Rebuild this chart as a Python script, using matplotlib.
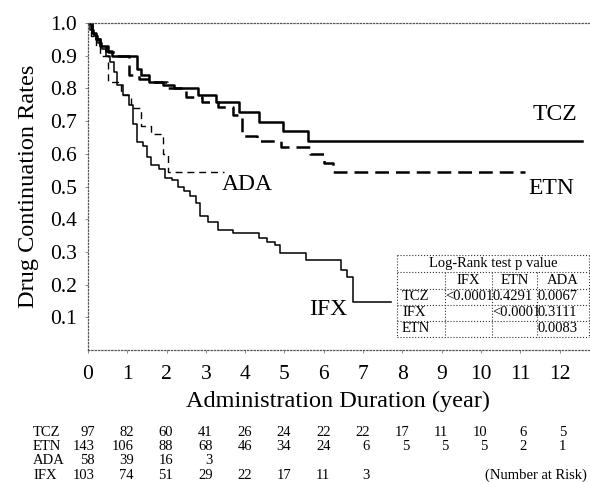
import numpy as np
import matplotlib
matplotlib.use('Agg')
import matplotlib.pyplot as plt
from matplotlib.lines import Line2D
from matplotlib.transforms import blended_transform_factory

plt.rcParams['font.family'] = ['Liberation Serif', 'DejaVu Serif']

# Kaplan-Meier style step curves (time in years, continuation rate)
tcz_t = [0, 0.1, 0.2, 0.3, 0.45, 0.6, 1.25, 1.35, 1.55, 1.9, 2.2, 2.8, 3.25, 3.85, 4.35, 4.95, 5.6, 12.57]
tcz_s = [1.0, 0.97, 0.95, 0.93, 0.915, 0.9, 0.86, 0.84, 0.82, 0.81, 0.80, 0.78, 0.757, 0.727, 0.697, 0.669, 0.638, 0.638]

etn_t = [0, 0.1, 0.2, 0.3, 0.5, 0.7, 1.05, 1.3, 1.6, 2.0, 2.5, 2.9, 3.3, 3.7, 3.93, 4.3, 4.9, 5.65, 6.0, 6.23, 11.12]
etn_s = [1.0, 0.97, 0.95, 0.93, 0.91, 0.9, 0.84, 0.83, 0.82, 0.80, 0.775, 0.757, 0.742, 0.72, 0.653, 0.638, 0.62, 0.598, 0.573, 0.543, 0.543]

ada_t = [0, 0.08, 0.2, 0.3, 0.5, 0.85, 1.1, 1.35, 1.6, 1.9, 2.03, 3.45]
ada_s = [1.0, 0.96, 0.93, 0.9, 0.82, 0.78, 0.74, 0.685, 0.66, 0.6, 0.543, 0.543]

ifx_t = [0, 0.05, 0.15, 0.25, 0.35, 0.45, 0.55, 0.65, 0.75, 0.9, 1.05, 1.15, 1.25, 1.4, 1.5, 1.6, 1.8,
         1.95, 2.15, 2.3, 2.45, 2.6, 2.75, 2.85, 3.05, 3.3, 3.7, 4.35, 4.55, 4.75, 4.88, 5.55, 6.45,
         6.6, 6.75, 7.7]
ifx_s = [1.0, 0.98, 0.96, 0.94, 0.92, 0.9, 0.88, 0.85, 0.81, 0.78, 0.75, 0.69, 0.635, 0.623, 0.59, 0.565, 0.552,
         0.527, 0.52, 0.5, 0.485, 0.47, 0.45, 0.41, 0.39, 0.368, 0.357, 0.343, 0.33, 0.32, 0.297, 0.276, 0.245,
         0.224, 0.147, 0.147]

# number at risk
risk_years = list(range(13))
risk_labels = ['TCZ', 'ETN', 'ADA', 'IFX']
risk_tcz = [97, 82, 60, 41, 26, 24, 22, 22, 17, 11, 10, 6, 5]
risk_etn = [143, 106, 88, 68, 46, 34, 24, 6, 5, 5, 5, 2, 1]
risk_ada = [58, 39, 16, 3]
risk_ifx = [103, 74, 51, 29, 22, 17, 11, 3]

# log-rank table
lr_cols = ['', 'IFX', 'ETN', 'ADA']
lr_rows = ['TCZ', 'IFX', 'ETN']
lr_vals = [['<0.0001', '0.4291', '0.0067'],
           ['', '<0.0001', '0.3111'],
           ['', '', '0.0083']]

W, H = 590, 482
fig = plt.figure(figsize=(W / 100, H / 100), dpi=100)
ax = fig.add_axes([88 / W, 1 - 350 / H, 501 / W, 327 / H])

ax.step(tcz_t, tcz_s, where='post', color='black', lw=1.8)
ax.step(etn_t, etn_s, where='post', color='black', lw=1.8, dashes=(5.5, 2.8))
ax.step(ada_t, ada_s, where='post', color='black', lw=1.0, dashes=(5, 3.5))
ax.step(ifx_t, ifx_s, where='post', color='black', lw=1.1)

ax.set_xlim(0, 12.75)
ax.set_ylim(0, 1.0)
ax.set_xticks(range(13))
ax.set_yticks(np.arange(1, 11) / 10)
ax.set_yticklabels(['%.1f' % v for v in np.arange(1, 11) / 10])
ax.tick_params(axis='both', labelsize=15.5, length=2, width=0.6, color='#777777')
ax.tick_params(axis='x', pad=9)
ax.tick_params(axis='y', pad=6)

for side in ['left', 'bottom', 'top']:
    ax.spines[side].set_linestyle(':')
    ax.spines[side].set_linewidth(0.9)
    ax.spines[side].set_color('#555555')
ax.spines['right'].set_visible(False)

ax.set_xlabel('Administration Duration (year)', fontsize=17.5, labelpad=5)
ax.set_ylabel('Drug Continuation Rates', fontsize=17.5, labelpad=8)

lab_kw = dict(fontsize=17, ha='center', va='center')
ax.text(11.88, 0.721, 'TCZ', **lab_kw)
ax.text(11.78, 0.494, 'ETN', **lab_kw)
ax.text(4.05, 0.506, 'ADA', **lab_kw)
ax.text(6.1, 0.123, 'IFX', **lab_kw)

# number at risk rows
tr = blended_transform_factory(ax.transData, fig.transFigure)
row_y = [432, 446.5, 461, 475.5]
for lab, vals, py in zip(risk_labels, [risk_tcz, risk_etn, risk_ada, risk_ifx], row_y):
    fig.text(33 / W, 1 - py / H, lab, fontsize=10.5, ha='left', va='center')
    for yr, v in zip(risk_years, vals):
        ax.text(yr + 0.17, 1 - py / H, str(v), transform=tr, fontsize=10.5, ha='right', va='center')
fig.text(485 / W, 1 - 475.5 / H, '(Number at Risk)', fontsize=10.5, ha='left', va='center')

# log-rank table drawn with dotted lines in figure pixels
xe = [397, 445, 492, 537, 589]
ye = [255, 272, 289, 305, 321, 337]

def fx(p):
    return p / W

def fy(p):
    return 1 - p / H

lkw = dict(color='#333333', lw=0.8, ls=':', transform=fig.transFigure)
for y in ye:
    fig.add_artist(Line2D([fx(xe[0]), fx(xe[-1])], [fy(y), fy(y)], **lkw))
for j, x in enumerate(xe):
    y0 = ye[0] if j in (0, len(xe) - 1) else ye[1]
    fig.add_artist(Line2D([fx(x), fx(x)], [fy(y0), fy(ye[-1])], **lkw))

fs_t = 10.5
fig.text(fx((xe[0] + xe[-1]) / 2), fy((ye[0] + ye[1]) / 2), 'Log-Rank test p value',
         fontsize=fs_t, ha='center', va='center')
for j, c in enumerate(lr_cols):
    if c:
        fig.text(fx((xe[j] + xe[j + 1]) / 2), fy((ye[1] + ye[2]) / 2), c,
                 fontsize=fs_t, ha='center', va='center')
for i, r in enumerate(lr_rows):
    yc = fy((ye[i + 2] + ye[i + 3]) / 2)
    fig.text(fx(xe[0] + 5), yc, r, fontsize=fs_t, ha='left', va='center')
    for j, v in enumerate(lr_vals[i]):
        if v:
            fig.text(fx(xe[j + 1] + 0.5), yc, v, fontsize=fs_t, ha='left', va='center')

fig.savefig('out.png', dpi=100)
